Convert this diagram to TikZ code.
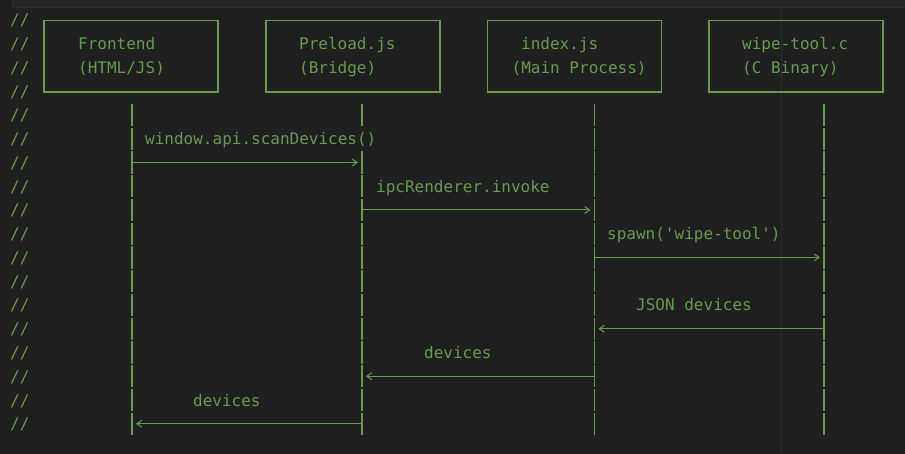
\documentclass[tikz,border=0pt]{standalone}
\usepackage{fontspec}
\setmonofont{DejaVu Sans Mono}
\usetikzlibrary{arrows.meta}
\definecolor{bg}{HTML}{1F1F1F}
\definecolor{cmt}{HTML}{6A9955}
\definecolor{panelbg}{HTML}{252526}
\definecolor{panelline}{HTML}{2D2D2D}
\definecolor{rulerline}{HTML}{263026}
\begin{document}
\begin{tikzpicture}[x=1pt,y=-1pt,anchor=base west,
  txt/.style={text=cmt,font=\ttfamily\fontsize{16}{19}\selectfont,inner sep=0pt},
  box/.style={draw=cmt,line width=1.3pt,minimum width=174pt,minimum height=71.5pt,anchor=center,inner sep=0pt},
  life/.style={draw=cmt,line width=1.3pt,dash pattern=on 22.25pt off 1.5pt},
  msg/.style={draw=cmt,line width=1pt,-{Straight Barb[length=5pt,width=7pt]},shorten >=4pt}]
\fill[bg] (0,0) rectangle (905,454);
\useasboundingbox (0,0) rectangle (905,454);
\draw[panelline,fill=panelbg] (12,-2) rectangle (907,7.3);
\draw[rulerline] (781.5,0) -- (781.5,454);
\node[txt] (sl0) at (10,26) {//}; \node[txt] (sl1) at (10,49.75) {//}; \node[txt] (sl2) at (10,73.5) {//};
\node[txt] (sl3) at (10,97.25) {//}; \node[txt] (sl4) at (10,121) {//}; \node[txt] (sl5) at (10,144.75) {//};
\node[txt] (sl6) at (10,168.5) {//}; \node[txt] (sl7) at (10,192.25) {//}; \node[txt] (sl8) at (10,216) {//};
\node[txt] (sl9) at (10,239.75) {//}; \node[txt] (sl10) at (10,263.5) {//}; \node[txt] (sl11) at (10,287.25) {//};
\node[txt] (sl12) at (10,311) {//}; \node[txt] (sl13) at (10,334.75) {//}; \node[txt] (sl14) at (10,358.5) {//};
\node[txt] (sl15) at (10,382.25) {//}; \node[txt] (sl16) at (10,406) {//}; \node[txt] (sl17) at (10,429.75) {//};
\node[box] (fe) at (131,56.25) {}; \node[box] (pre) at (353,56.25) {};
\node[box] (idx) at (574.5,56.25) {}; \node[box] (wt) at (796,56.25) {};
\node[txt] (feName) at (78,49.75) {Frontend}; \node[txt] (feSub) at (78,73.5) {(HTML/JS)};
\node[txt] (preName) at (299,49.75) {Preload.js}; \node[txt] (preSub) at (299,73.5) {(Bridge)};
\node[txt] (idxName) at (521,49.75) {index.js}; \node[txt] (idxSub) at (511.5,73.5) {(Main Process)};
\node[txt] (wtName) at (742,49.75) {wipe-tool.c}; \node[txt] (wtSub) at (742,73.5) {(C Binary)};
\coordinate (feTop) at (132,103.9); \coordinate (feBot) at (132,435.6);
\coordinate (preTop) at (362,103.9); \coordinate (preBot) at (362,435.6);
\coordinate (preCutA) at (362,126.9); \coordinate (preCutB) at (362,151.4);
\coordinate (idxTop) at (594.5,103.9); \coordinate (idxBot) at (594.5,435.6);
\coordinate (wtTop) at (824,103.9); \coordinate (wtBot) at (824,435.6);
\draw[life] (feTop) -- (feBot); \draw[life] (preTop) -- (preCutA); \draw[life] (preCutB) -- (preBot);
\draw[life] (idxTop) -- (idxBot); \draw[life] (wtTop) -- (wtBot);
\node[txt] (m1) at (145,144.75) {window.api.scanDevices()};
\draw[msg] (feTop |- 0,162.5) -- (preTop |- 0,162.5);
\node[txt] (m2) at (376,192.25) {ipcRenderer.invoke};
\draw[msg] (preTop |- 0,210) -- (idxTop |- 0,210);
\node[txt] (m3) at (607,239.75) {spawn('wipe-tool')};
\draw[msg] (idxTop |- 0,257.5) -- (wtTop |- 0,257.5);
\node[txt] (m4) at (636,311) {JSON devices};
\draw[msg] (wtTop |- 0,328.75) -- (idxTop |- 0,328.75);
\node[txt] (m5) at (424,358.5) {devices};
\draw[msg] (idxTop |- 0,376.25) -- (preTop |- 0,376.25);
\node[txt] (m6) at (193,406) {devices};
\draw[msg] (preTop |- 0,423.75) -- (feTop |- 0,423.75);
\end{tikzpicture}
\end{document}
